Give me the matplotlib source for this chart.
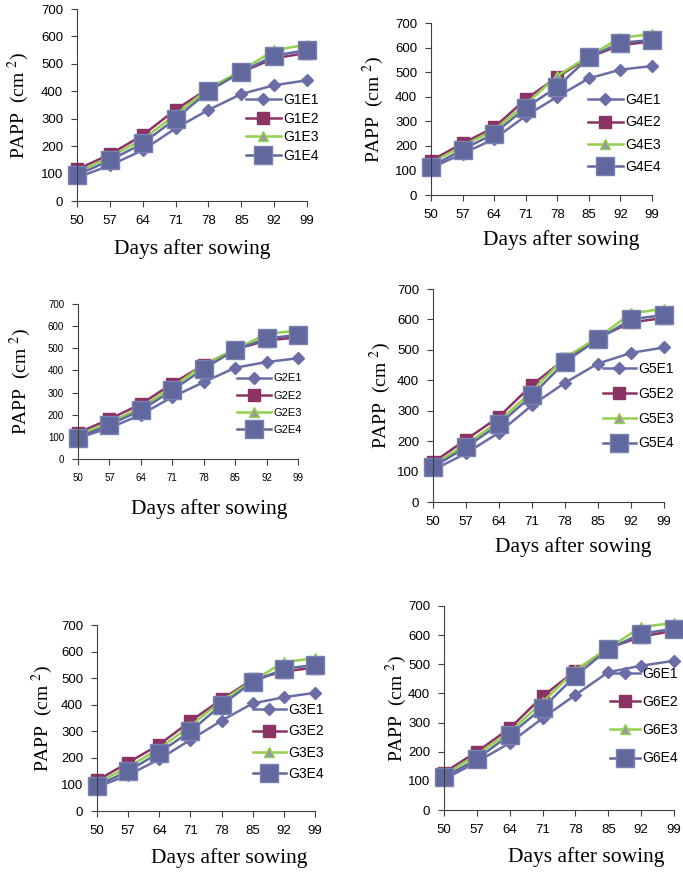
import numpy as np
import matplotlib.pyplot as plt

plt.rcParams['mathtext.fontset'] = 'stix'

# days after sowing
days = [50, 57, 64, 71, 78, 85, 92, 99]

# PAPP (cm2) for each genotype, four environments
g1e1 = [85, 130, 185, 265, 332, 390, 422, 440]
g1e2 = [115, 170, 240, 333, 410, 470, 520, 540]
g1e3 = [105, 160, 225, 315, 410, 475, 550, 570]
g1e4 = [95, 148, 210, 300, 400, 470, 530, 550]

g2e1 = [95, 140, 200, 280, 347, 412, 438, 455]
g2e2 = [118, 180, 248, 340, 425, 495, 535, 550]
g2e3 = [108, 165, 232, 325, 425, 495, 565, 580]
g2e4 = [97, 155, 220, 310, 408, 492, 545, 560]

g3e1 = [90, 135, 195, 268, 340, 405, 428, 445]
g3e2 = [115, 182, 250, 338, 420, 495, 525, 540]
g3e3 = [105, 165, 235, 320, 415, 490, 560, 575]
g3e4 = [95, 150, 220, 300, 400, 485, 535, 550]

g4e1 = [110, 168, 228, 322, 400, 475, 510, 525]
g4e2 = [140, 210, 275, 390, 480, 560, 610, 625]
g4e3 = [130, 200, 265, 370, 485, 565, 640, 655]
g4e4 = [115, 185, 250, 355, 440, 560, 620, 630]

g5e1 = [105, 160, 228, 318, 392, 455, 490, 508]
g5e2 = [130, 205, 280, 385, 470, 540, 590, 605]
g5e3 = [122, 190, 265, 365, 475, 540, 620, 635]
g5e4 = [115, 180, 255, 350, 460, 535, 600, 615]

g6e1 = [105, 165, 230, 315, 395, 473, 495, 512]
g6e2 = [128, 200, 280, 390, 478, 555, 595, 615]
g6e3 = [120, 190, 268, 370, 480, 555, 628, 642]
g6e4 = [112, 175, 258, 350, 460, 552, 605, 622]

W, H = 683, 872
fig = plt.figure(figsize=(W / 100, H / 100), dpi=100)


def panel(name, series, box, tfs, ylab_x, xlab, leg):
    # box: left, right, top, bottom in pixels
    l, r, t, b = box
    ax = fig.add_axes([l / W, 1 - b / H, (r - l) / W, (b - t) / H])
    e1, e2, e3, e4 = series
    ax.plot(days, e1, '-D', color='#6b6ea6', lw=1.8, ms=6, clip_on=False,
            label=name + 'E1')
    ax.plot(days, e2, '-s', color='#8b3363', lw=1.8, ms=8, clip_on=False,
            label=name + 'E2')
    ax.plot(days, e3, '-^', color='#92d050', mfc='#9a9a9a', mec='#92d050',
            lw=1.8, ms=7, clip_on=False, label=name + 'E3')
    ax.plot(days, e4, '-s', color='#61689d', mec='#7a80b0', lw=1.8, ms=13,
            clip_on=False, label=name + 'E4')
    ax.set_xlim(50, 99)
    ax.set_ylim(0, 700)
    ax.set_xticks(days)
    ax.set_yticks(np.arange(0, 701, 100))
    for s in ['top', 'right']:
        ax.spines[s].set_visible(False)
    for s in ['left', 'bottom']:
        ax.spines[s].set_color('#404040')
    ax.tick_params(labelsize=tfs, length=4, color='#404040', pad=6)
    for lab in ax.get_xticklabels() + ax.get_yticklabels():
        lab.set_fontfamily('Liberation Sans')
    fig.text(ylab_x / W, 1 - (t + b) / 2 / H, r'PAPP  (cm $^{2}$)', rotation=90,
             ha='center', va='center', fontsize=14, family='Liberation Serif')
    xc, xy = xlab
    fig.text(xc / W, 1 - xy / H, 'Days after sowing',
             ha='center', va='center', fontsize=15.5, family='Liberation Serif')
    lx, tx, ly, sp, lfont = leg
    fpx = lfont * 100 / 72
    pad = 0.15
    ax.legend(loc='upper left', bbox_to_anchor=(lx / W, 1 - (ly - fpx / 2) / H),
              bbox_transform=fig.transFigure, frameon=False, borderpad=0,
              borderaxespad=0, handlelength=(tx - lx) / fpx - pad,
              handletextpad=pad, labelspacing=(sp - fpx) / fpx,
              prop={'family': 'Liberation Sans', 'size': lfont})
    return ax


panel('G1', [g1e1, g1e2, g1e3, g1e4], (77, 307, 9, 201), 9.5, 18, (192, 249),
      (246, 283, 100, 18.5, 10))
panel('G4', [g4e1, g4e2, g4e3, g4e4], (431, 652, 23, 195), 9.5, 373, (561, 240),
      (588, 625, 100, 22.3, 10))
panel('G2', [g2e1, g2e2, g2e3, g2e4], (78, 298, 304, 459), 7, 20, (209, 509),
      (237, 273, 379, 18.3, 8))
panel('G5', [g5e1, g5e2, g5e3, g5e4], (433, 664, 289, 502), 9.5, 380, (573, 547),
      (603, 638, 369, 24.7, 10))
panel('G3', [g3e1, g3e2, g3e3, g3e4], (97, 315, 625, 811), 9.5, 42, (229, 858),
      (253, 288, 710, 21.3, 10))
panel('G6', [g6e1, g6e2, g6e3, g6e4], (444, 674, 606, 810), 9.5, 396, (586, 857),
      (610, 642, 674, 28, 10))

fig.savefig('out.png', dpi=100)
